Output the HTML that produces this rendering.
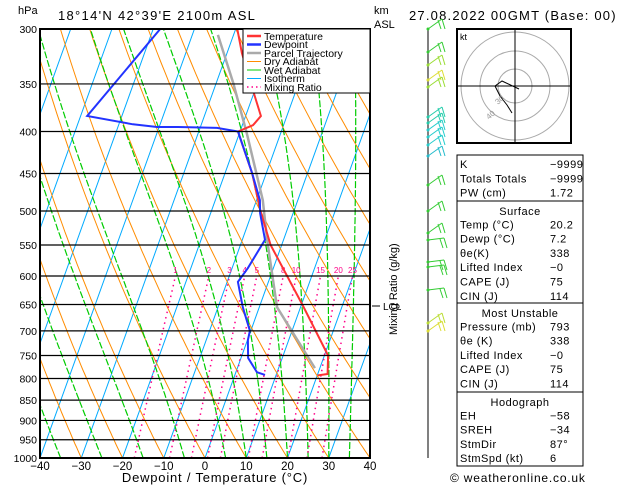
<!DOCTYPE html>
<html><head><meta charset="utf-8">
<style>
body{margin:0;background:#fff;width:629px;height:486px;overflow:hidden;font-family:"Liberation Sans",sans-serif;}
svg text{font-family:"Liberation Sans",sans-serif;}
</style></head>
<body>
<svg id="c" width="629" height="486" xmlns="http://www.w3.org/2000/svg">
<defs><clipPath id="pc"><rect x="40" y="29" width="330" height="429"/></clipPath></defs>
<text x="18" y="14" font-size="11">hPa</text>
<text x="58" y="20" font-size="13" letter-spacing="1.3">18°14'N  42°39'E  2100m  ASL</text>
<text x="374" y="14" font-size="11">km</text>
<text x="374" y="28" font-size="11">ASL</text>
<text x="409" y="20" font-size="13" letter-spacing="1.2">27.08.2022  00GMT  (Base: 00)</text>
<g id="bg" clip-path="url(#pc)"></g>
<g id="series" clip-path="url(#pc)"></g>
<g id="axes"></g>
<rect x="40" y="29" width="330" height="429" fill="none" stroke="#000" stroke-width="2"/>
<g>
<rect x="243" y="29" width="127" height="64" fill="#fff" stroke="#000" stroke-width="1"/>
<line x1="247" y1="36" x2="261" y2="36" stroke="#ff3333" stroke-width="2.5"/><text x="264" y="40" font-size="10.5">Temperature</text>
<line x1="247" y1="44.5" x2="261" y2="44.5" stroke="#2233ff" stroke-width="2.5"/><text x="264" y="48" font-size="10.5">Dewpoint</text>
<line x1="247" y1="53" x2="261" y2="53" stroke="#aaa" stroke-width="2.5"/><text x="264" y="57" font-size="10.5">Parcel Trajectory</text>
<line x1="247" y1="61.5" x2="261" y2="61.5" stroke="#ff8c00" stroke-width="1"/><text x="264" y="65" font-size="10.5">Dry Adiabat</text>
<line x1="247" y1="70" x2="261" y2="70" stroke="#00cc00" stroke-width="1"/><text x="264" y="74" font-size="10.5">Wet Adiabat</text>
<line x1="247" y1="78.5" x2="261" y2="78.5" stroke="#00aaff" stroke-width="1"/><text x="264" y="82" font-size="10.5">Isotherm</text>
<line x1="247" y1="87" x2="261" y2="87" stroke="#ff0088" stroke-width="1.5" stroke-dasharray="1.5,3"/><text x="264" y="91" font-size="10.5">Mixing Ratio</text>
</g>
<text x="0" y="0" font-size="11" transform="translate(397,335) rotate(-90)">Mixing Ratio (g/kg)</text>
<line x1="372" y1="306" x2="380" y2="306" stroke="#000"/>
<text x="383" y="310" font-size="10">LCL</text>
<text x="215" y="482" font-size="13" text-anchor="middle" letter-spacing="0.8">Dewpoint / Temperature (°C)</text>
<g id="wind"></g>
<g>
<rect x="457" y="29" width="114" height="114" fill="#fff" stroke="#000" stroke-width="2"/>
<circle cx="515" cy="86" r="17" fill="none" stroke="#aaa"/>
<circle cx="515" cy="86" r="35" fill="none" stroke="#aaa"/>
<circle cx="515" cy="86" r="54" fill="none" stroke="#aaa"/>
<line x1="458" y1="86" x2="570" y2="86" stroke="#000"/>
<line x1="515" y1="30" x2="515" y2="142" stroke="#000"/>
<text x="460" y="40" font-size="9">kt</text>
<polyline points="519,89 502,81 495,86 500,96 507,105 512,113" fill="none" stroke="#000"/>
<text x="486" y="118" font-size="8" fill="#999" transform="rotate(-40 490 115)">40</text>
<text x="495" y="103" font-size="8" fill="#999" transform="rotate(-40 499 100)">30</text>
</g>
<g id="table" font-size="11"></g>
<text x="450" y="482" font-size="12" letter-spacing="0.8">© weatheronline.co.uk</text>
</svg>
<script>
const tempP=[300,321,363,383,393,400,450,500,550,650,750,790,793];
const tempT=[-29.6,-26.4,-19.4,-16.3,-17.4,-20.5,-13.4,-8.1,-2.7,10.2,20.9,22.4,20.1];
const dewP=[300,383,392,395,395,396,400,449,485,503,542,587,610,655,700,718,755,786,792];
const dewT=[-48.3,-58.4,-46.6,-40.5,-35.4,-25.9,-20.5,-13.5,-9.2,-8.0,-4.5,-6.2,-7.4,-4.0,-0.2,0.1,1.7,5.1,7.3];
const parcelP=[305,349,402,485,542,595,655,777];
const parcelT=[-33.8,-25.9,-18.2,-8.5,-4.0,0.1,4.3,18.8];
const pressureTicks=[300,350,400,450,500,550,600,650,700,750,800,850,900,950,1000];
const tempTicks=[-40,-30,-20,-10,0,10,20,30,40];
const mixRatios=[1,2,3,4,5,8,10,15,20,25];
const wetStarts=[-35,-25,-15,-5,5,10,15,20,25,30,35];
const SVGNS="http://www.w3.org/2000/svg";
function yP(p){return 458-Math.log(1000/p)/Math.log(1000/300)*429;}
function xT(t,p){return 40+(t+40)*4.125+0.36*(458-yP(p));}
function mk(tag,attrs,parent){const e=document.createElementNS(SVGNS,tag);for(const k in attrs)e.setAttribute(k,attrs[k]);parent.appendChild(e);return e;}
const bg=document.getElementById('bg'),axes=document.getElementById('axes'),ser=document.getElementById('series');
function pts(ps,ts){return ps.map((p,i)=>xT(ts[i],p).toFixed(1)+','+yP(p).toFixed(1)).join(' ');}
for(let t=-120;t<=40;t+=10){const l=mk('line',{x1:xT(t,1000),y1:yP(1000),x2:xT(t,300),y2:yP(300),stroke:'#00aaff','stroke-width':1},bg);

}
for(let t0=-40;t0<=200;t0+=10){const th=t0+273.15;const ps=[],ts=[];for(let p=1000;p>=300;p-=10){ps.push(p);ts.push(th*Math.pow(p/1000,0.286)-273.15);}
const l=mk('polyline',{points:pts(ps,ts),fill:'none',stroke:'#ff8c00','stroke-width':1},bg);

}
function es(t){return 6.112*Math.exp(17.67*t/(t+243.5));}
wetStarts.forEach(t0=>{let T=t0+273.15;const ps=[1000],ts=[t0];
for(let p=1000;p>300;p-=5){const rs=0.622*es(T-273.15)/(p-es(T-273.15));const Lv=2.5e6,Rd=287,cp=1005;
const dTdp=(Rd*T+Lv*rs)/(p*(cp+Lv*Lv*rs*0.622/(Rd*T*T)));T-=dTdp*5;ps.push(p-5);ts.push(T-273.15);}
const l=mk('polyline',{points:pts(ps,ts),fill:'none',stroke:'#00cc00','stroke-width':1.2,'stroke-dasharray':'7,2'},bg);

});
mixRatios.forEach(w=>{const ps=[],ts=[];for(let p=1000;p>=600;p-=20){const e=w*p/(622+w);const L=Math.log(e/6.112);ps.push(p);ts.push(243.5*L/(17.67-L));}
const l=mk('polyline',{points:pts(ps,ts),fill:'none',stroke:'#ff0088','stroke-width':1.5,'stroke-dasharray':'1.5,4'},bg);


const tx=mk('text',{x:xT(ts[ts.length-1],600),y:yP(600)-3,'font-size':8,fill:'#ff0088','text-anchor':'middle'},bg);tx.textContent=w;

});
pressureTicks.forEach(p=>{const l=mk('line',{x1:40,x2:370,y1:yP(p),y2:yP(p),stroke:'#000','stroke-width':1.2},axes);


const t=mk('text',{x:37,y:yP(p)+4,'font-size':10.5,'text-anchor':'end'},axes);t.textContent=p;

});
tempTicks.forEach(v=>{const t=mk('text',{x:40+(v+40)*4.125,y:470,'font-size':11.5,'text-anchor':'middle'},axes);t.textContent=(v<0?'\u2212':'')+Math.abs(v);

});
let s=mk('polyline',{points:pts(parcelP,parcelT),fill:'none',stroke:'#aaa','stroke-width':2.5},ser);


s=mk('polyline',{points:pts(tempP,tempT),fill:'none',stroke:'#ff3333','stroke-width':2},ser);


s=mk('polyline',{points:pts(dewP,dewT),fill:'none',stroke:'#2233ff','stroke-width':2},ser);


const wind=document.getElementById('wind');
const ax=mk('line',{x1:428,y1:29,x2:428,y2:458,stroke:'#000','stroke-width':1},wind);


const barbY=[29,52,65,80,87,117,123,130,137,145,156,185,211,233,240,262,267,290,323,331];
const barbC=['#33cc33','#33cc33','#99dd33','#dddd33','#99dd33','#22ccaa','#22ccaa','#22cccc','#22cccc','#22cccc','#22bbcc','#33cc33','#33cc33','#33cc33','#33cc33','#33cc33','#33cc33','#33cc33','#bbdd33','#dddd33'];
barbY.forEach((y,i)=>{const c=barbC[i];const dx=i>13&&i<18?16:14,dy=i>13&&i<18?-2:-10;
const g=mk('g',{},wind);


mk('line',{x1:428,y1:y,x2:428+dx,y2:y+dy,stroke:c,'stroke-width':1},g);
mk('line',{x1:428+dx,y1:y+dy,x2:428+dx+3,y2:y+dy+10,stroke:c,'stroke-width':1},g);
mk('line',{x1:428+dx-4,y1:y+dy+1,x2:428+dx-1,y2:y+dy+10,stroke:c,'stroke-width':1},g);
mk('circle',{cx:428,cy:y,r:1.5,fill:c},g);});
const tb=document.getElementById('table');
const rows=[[155,201,[['K','-9999'],['Totals Totals','-9999'],['PW (cm)','1.72']],null],
[201,303,[['Temp (°C)','20.2'],['Dewp (°C)','7.2'],['θe(K)','338'],['Lifted Index','-0'],['CAPE (J)','75'],['CIN (J)','114']],'Surface'],
[303,392,[['Pressure (mb)','793'],['θe (K)','338'],['Lifted Index','-0'],['CAPE (J)','75'],['CIN (J)','114']],'Most Unstable'],
[392,466,[['EH','-58'],['SREH','-34'],['StmDir','87°'],['StmSpd (kt)','6']],'Hodograph']];
rows.forEach(r=>{const g=mk('g',{},tb);


mk('rect',{x:457,y:r[0],width:126,height:r[1]-r[0],fill:'#fff',stroke:'#000','stroke-width':1},g);
let y=r[0]+13;if(r[3]){const t=mk('text',{x:520,y:y+1,'text-anchor':'middle','letter-spacing':0.5},g);t.textContent=r[3];y+=14.3;}
r[2].forEach(([k,v])=>{const a=mk('text',{x:460,y:y,'letter-spacing':0.5},g);a.textContent=k;const b=mk('text',{x:550,y:y,'letter-spacing':0.5},g);b.textContent=v.replace('-','\u2212');y+=14.3;});});
</script>
</body></html>
